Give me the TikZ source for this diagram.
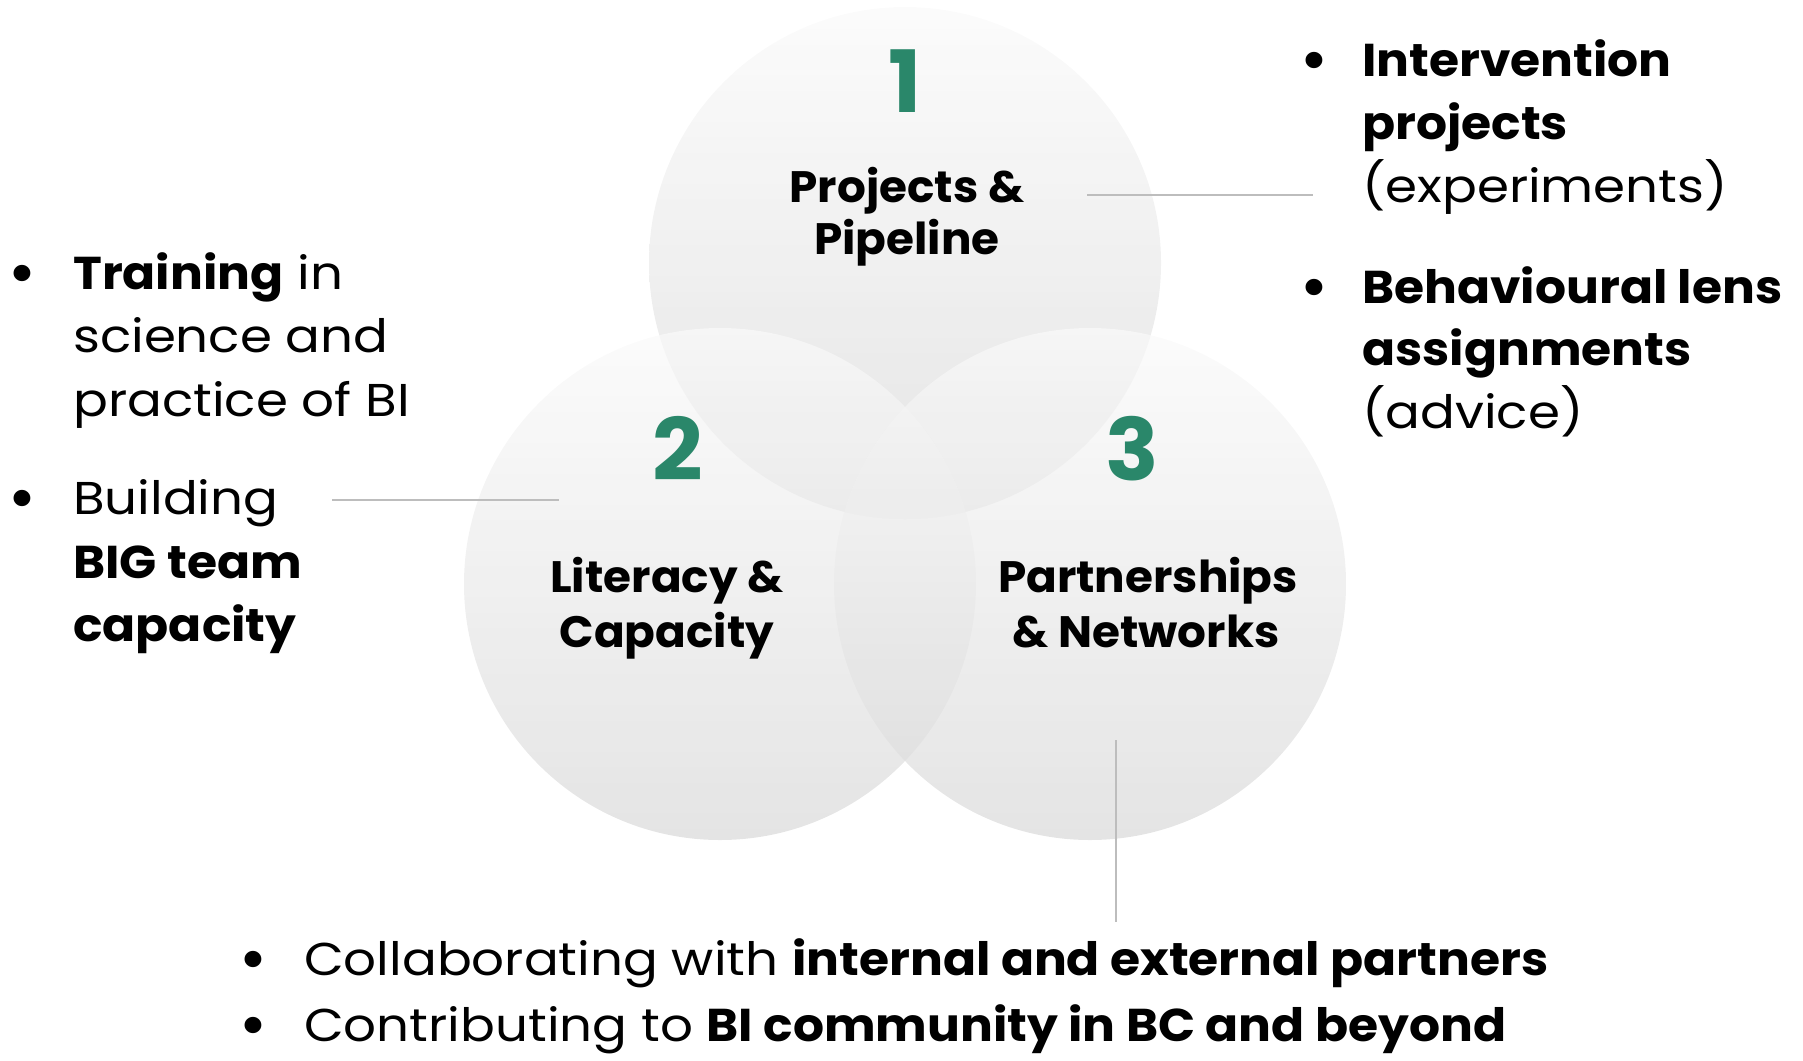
\documentclass[tikz,border=0pt]{standalone}
\usepackage{fontspec}
\setmainfont{Poppins}[UprightFeatures={FakeStretch=1.12}, BoldFeatures={FakeStretch=1.06}]
\newfontfamily\labfont{Poppins}[BoldFeatures={FakeStretch=1.03}]
\definecolor{numgreen}{HTML}{2A876A}
\definecolor{linegray}{HTML}{BDBDBD}
\begin{document}
\begin{tikzpicture}[x=1pt,y=-1pt,
  venn/.style={circle, minimum size=512pt, inner sep=0pt, top color=gray!4, bottom color=gray!30, fill opacity=0.7, draw=none},
  num/.style={font=\labfont\fontsize{86}{86}\selectfont\bfseries, text=numgreen, anchor=base, inner sep=0pt},
  lab/.style={font=\labfont\fontsize{44}{52}\selectfont\bfseries, anchor=base, inner sep=0pt},
  txt/.style={font=\fontsize{46}{63}\selectfont, anchor=base west, inner sep=0pt},
  bul/.style={font=\labfont\fontsize{54}{63}\selectfont\bfseries, anchor=base, inner sep=0pt},
  conn/.style={draw=linegray, line width=1.2pt}]
\useasboundingbox (0,0) rectangle (1803,1060);
% circles
\node[venn] (c1) at (905,263) {};
\node[venn] (c2) at (720,584) {};
\node[venn] (c3) at (1090,584) {};
% circle labels
\node[num] (n1) at (905,112) {1};
\node[lab] (p1) at (907,202) {Projects \&};
\node[lab] (p2) at (907,254) {Pipeline};
\node[num] (n2) at (678,480) {2};
\node[num] (n3) at (1132,480) {3};
\node[lab] (q1) at (667,592) {Literacy \&};
\node[lab] (q2) at (667,647) {Capacity};
\node[lab] (s1) at (1148,592) {Partnerships};
\node[lab] (s2) at (1146,647) {\& Networks};
% right text
\node[bul] (rb1) at (1314,78) {•};
\node[txt] (r1) at (1362,76) {\bfseries Intervention};
\node[txt] (r2) at (1362,139) {\bfseries projects};
\node[txt] (r3) at (1362,202) {(experiments)};
\node[bul] (rb2) at (1314,305) {•};
\node[txt] (r4) at (1362,303) {\bfseries Behavioural lens};
\node[txt] (r5) at (1362,365) {\bfseries assignments};
\node[txt] (r6) at (1362,428) {(advice)};
% left text
\node[bul] (lb1) at (22,291) {•};
\node[txt] (l1) at (73,289) {\textbf{Training} in};
\node[txt] (l2) at (73,352) {science and};
\node[txt] (l3) at (73,416) {practice of BI};
\node[bul] (lb2) at (22,516) {•};
\node[txt] (l4) at (73,514) {Building};
\node[txt] (l5) at (73,578) {\bfseries BIG team};
\node[txt] (l6) at (73,641) {\bfseries capacity};
% bottom text
\node[bul] (bb1) at (253,977) {•};
\node[txt] (b1) at (304,975) {Collaborating with \textbf{internal and external partners}};
\node[bul] (bb2) at (253,1043) {•};
\node[txt] (b2) at (304,1041) {Contributing to \textbf{BI community in BC and beyond}};
% connectors
\coordinate (k1a) at (1087,195);
\coordinate (k1b) at (1313,195);
\coordinate (k2a) at (332,500);
\coordinate (k2b) at (559,500);
\coordinate (k3a) at (1116,740);
\coordinate (k3b) at (1116,922);
\draw[conn] (k1a) -- (k1b);
\draw[conn] (k2a) -- (k2b);
\draw[conn] (k3a) -- (k3b);
\end{tikzpicture}
\end{document}
